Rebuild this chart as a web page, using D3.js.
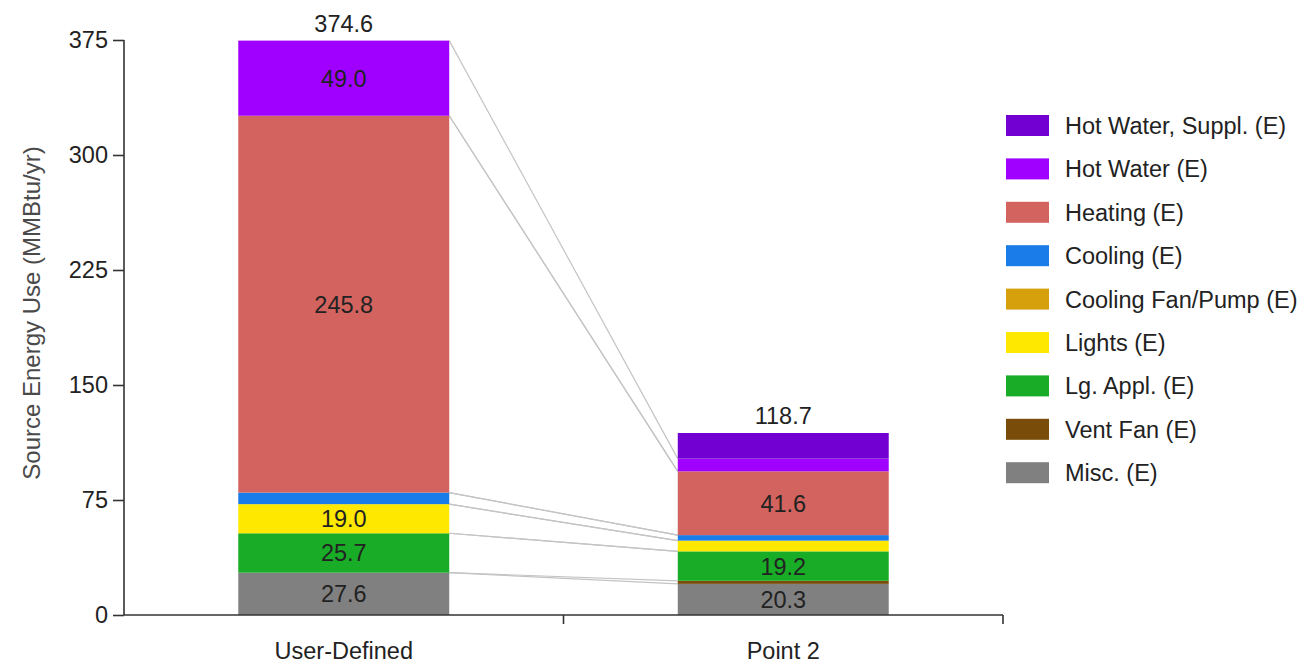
<!doctype html>
<html lang="en">
<head>
<meta charset="utf-8">
<title>Source Energy Use</title>
<script src="https://d3js.org/d3.v7.min.js"></script>
<style>
  body { margin: 0; background: #fff; }
  svg { font-family: "Liberation Sans", Arial, sans-serif; }
  .axis path, .axis line { stroke: #333; stroke-width: 1.6; }
  .axis text { fill: #222; font-size: 23.5px; }
</style>
</head>
<body>
<div id="chart"></div>
<script>
// categories and series, bottom of stack first
var categories = ["User-Defined", "Point 2"];
var series = ["Misc. (E)", "Vent Fan (E)", "Lg. Appl. (E)", "Lights (E)",
              "Cooling Fan/Pump (E)", "Cooling (E)", "Heating (E)",
              "Hot Water (E)", "Hot Water, Suppl. (E)"];
var colors = ["#808080", "#7a4c0a", "#19ad27", "#ffe800",
              "#d6a00c", "#1a7ce8", "#d3635f", "#a000ff", "#7200d2"];
// values per series: [User-Defined, Point 2]
var misc      = [27.6, 20.3];
var ventFan   = [0.0, 2.0];
var lgAppl    = [25.7, 19.2];
var lights    = [19.0, 7.0];
var coolFan   = [0.0, 0.0];
var cooling   = [7.5, 3.6];
var heating   = [245.8, 41.6];
var hotWater  = [49.0, 8.3];
var hwSuppl   = [0.0, 16.7];
var yTicks = [0, 75, 150, 225, 300, 375];

var values = [misc, ventFan, lgAppl, lights, coolFan, cooling, heating, hotWater, hwSuppl];

var width = 1311, height = 664;
var svg = d3.select("#chart").append("svg")
    .attr("width", width).attr("height", height);

var x = d3.scaleBand().domain(categories).range([124, 1003])
    .paddingInner(0.52).paddingOuter(0.26);
var y = d3.scaleLinear().domain([0, 375]).range([615, 40]);

// build stacks
var rows = categories.map(function(c, ci) {
  var r = { cat: c };
  series.forEach(function(s, si) { r[s] = values[si][ci]; });
  return r;
});
var stack = d3.stack().keys(series)(rows);

// connector lines between bars for series present in both
var conn = svg.append("g");
stack.forEach(function(layer) {
  var a = layer[0], b = layer[1];
  if (a[1] - a[0] <= 0 || b[1] - b[0] <= 0) return;
  [0, 1].forEach(function(k) {
    if (a[k] === 0 && b[k] === 0) return;
    conn.append("line")
      .attr("x1", x(categories[0]) + x.bandwidth())
      .attr("x2", x(categories[1]))
      .attr("y1", y(a[k])).attr("y2", y(b[k]))
      .attr("stroke", "#c4c4c4").attr("stroke-width", 1.2);
  });
});

// bars
svg.append("g").selectAll("g").data(stack).join("g")
    .attr("fill", function(d, i) { return colors[i]; })
  .selectAll("rect").data(function(d) { return d; }).join("rect")
    .attr("x", function(d) { return x(d.data.cat); })
    .attr("width", x.bandwidth())
    .attr("y", function(d) { return y(d[1]); })
    .attr("height", function(d) { return y(d[0]) - y(d[1]); });

// segment labels for large segments
var segLabels = svg.append("g").attr("font-size", 23.5).attr("fill", "#222")
    .attr("text-anchor", "middle");
stack.forEach(function(layer) {
  layer.forEach(function(d) {
    if (d[1] - d[0] < 18) return;
    segLabels.append("text")
      .attr("x", x(d.data.cat) + x.bandwidth() / 2)
      .attr("y", y((d[0] + d[1]) / 2))
      .attr("dy", "0.36em")
      .text((d[1] - d[0]).toFixed(1));
  });
});

// totals
var totals = rows.map(function(r) { return d3.sum(series, function(s) { return r[s]; }); });
svg.append("g").attr("font-size", 23.5).attr("fill", "#222").attr("text-anchor", "middle")
  .selectAll("text").data(categories).join("text")
    .attr("x", function(c) { return x(c) + x.bandwidth() / 2; })
    .attr("y", function(c, i) { return y(totals[i]) - 9; })
    .text(function(c, i) { return totals[i].toFixed(1); });

// y axis
svg.append("g").attr("class", "axis")
    .attr("transform", "translate(124,0)")
    .call(d3.axisLeft(y).tickValues(yTicks).tickSize(11).tickSizeOuter(0).tickPadding(5))
    .call(function(g) { g.select(".domain").attr("d", "M0,40V615"); });

// x axis
var xa = svg.append("g").attr("class", "axis");
xa.append("line").attr("x1", 124).attr("x2", 1003).attr("y1", 615).attr("y2", 615);
[x(categories[1]) - x.step() * x.paddingInner() / 2, 1003].forEach(function(t) {
  xa.append("line").attr("x1", t).attr("x2", t).attr("y1", 615).attr("y2", 624);
});
xa.selectAll("text.cat").data(categories).join("text")
    .attr("class", "cat")
    .attr("x", function(c) { return x(c) + x.bandwidth() / 2; })
    .attr("y", 659).attr("text-anchor", "middle")
    .text(function(c) { return c; });

// y title
svg.append("text")
    .attr("transform", "translate(40,313) rotate(-90)")
    .attr("text-anchor", "middle").attr("font-size", 24).attr("fill", "#4a4a4a")
    .text("Source Energy Use (MMBtu/yr)");

// legend, top entry is the top of the stack
var legendItems = series.map(function(s, i) { return { name: s, color: colors[i] }; }).reverse();
var lg = svg.append("g").selectAll("g").data(legendItems).join("g")
    .attr("transform", function(d, i) { return "translate(1006," + (125.5 + i * 43.4) + ")"; });
lg.append("rect").attr("x", 0).attr("y", -10.5).attr("width", 43).attr("height", 21)
    .attr("fill", function(d) { return d.color; });
lg.append("text").attr("x", 59).attr("dy", "0.36em").attr("font-size", 23.5).attr("fill", "#222")
    .text(function(d) { return d.name; });
</script>
</body>
</html>
